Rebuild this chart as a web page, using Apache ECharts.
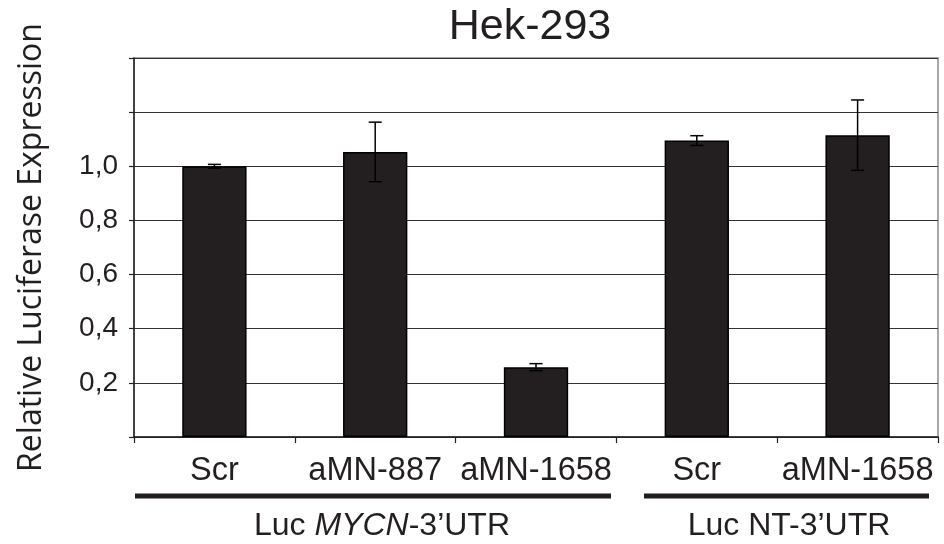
<!DOCTYPE html>
<html>
<head>
<meta charset="utf-8">
<script src="https://cdn.jsdelivr.net/npm/echarts@6/dist/echarts.min.js"></script>
<style>html,body{margin:0;padding:0;background:#fff}#c{width:944px;height:544px}</style>
</head>
<body>
<div id="c"></div>
<script>
var categories = ['Scr', 'aMN-887', 'aMN-1658', 'Scr', 'aMN-1658'];
var values = [1.0, 1.053, 0.258, 1.095, 1.115];
var errors = [0.007, 0.11, 0.013, 0.018, 0.13];
var yTicks = [0.2, 0.4, 0.6, 0.8, 1.0];
var groupNames = ['Luc ', 'MYCN', '-3\u2019UTR', 'Luc NT-3\u2019UTR'];

var chart = echarts.init(document.getElementById('c'), null, {renderer: 'canvas'});
var ink = '#231f20';
var font = 'Liberation Sans, Arial, sans-serif';

chart.setOption({
  animation: false,
  backgroundColor: '#fff',
  title: {
    text: 'Hek-293', left: 525, top: 1, textAlign: 'center',
    textStyle: {fontFamily: font, fontSize: 43, fontWeight: 'normal', color: ink}
  },
  grid: {left: 134, right: 6, top: 58, bottom: 107, show: true, borderColor: '#8a8a8a', borderWidth: 1.5, backgroundColor: 'transparent'},
  xAxis: {
    type: 'category', data: categories,
    axisLine: {lineStyle: {color: ink, width: 1.5}},
    axisTick: {show: true, length: 6, lineStyle: {color: ink, width: 1.2}},
    axisLabel: {fontFamily: font, fontSize: 32.5, color: ink, margin: 18, interval: 0},
    splitLine: {show: false}
  },
  yAxis: {
    type: 'value', min: 0, max: 1.4, interval: 0.2,
    name: 'Relative Luciferase Expression', nameLocation: 'middle', nameGap: 86,
    nameTextStyle: {fontFamily: 'Open Sans, sans-serif', fontSize: 32, color: ink},
    axisLine: {show: true, lineStyle: {color: ink, width: 1.5}},
    axisTick: {show: true, length: 5, lineStyle: {color: ink, width: 1.2}},
    axisLabel: {
      fontFamily: font, fontSize: 28, color: ink, margin: 16,
      formatter: function (v) {
        for (var i = 0; i < yTicks.length; i++) {
          if (Math.abs(v - yTicks[i]) < 1e-6) return yTicks[i].toFixed(1).replace('.', ',');
        }
        return '';
      }
    },
    splitLine: {show: true, lineStyle: {color: '#333', width: 1.2}}
  },
  series: [
    {
      type: 'bar', data: values, barWidth: '40%',
      itemStyle: {color: ink, borderColor: '#000', borderWidth: 1.5},
      z: 2
    },
    {
      type: 'custom', z: 3,
      data: values.map(function (v, i) { return [i, v - errors[i], v + errors[i]]; }),
      renderItem: function (params, api) {
        var x = api.value(0);
        var lo = api.coord([x, api.value(1)]);
        var hi = api.coord([x, api.value(2)]);
        var hw = 6.5;
        var st = {stroke: '#000', lineWidth: 1.5};
        return {
          type: 'group',
          children: [
            {type: 'line', shape: {x1: lo[0], y1: lo[1], x2: hi[0], y2: hi[1]}, style: st},
            {type: 'line', shape: {x1: lo[0] - hw, y1: lo[1], x2: lo[0] + hw, y2: lo[1]}, style: st},
            {type: 'line', shape: {x1: hi[0] - hw, y1: hi[1], x2: hi[0] + hw, y2: hi[1]}, style: st}
          ]
        };
      }
    }
  ],
  graphic: [
    {type: 'rect', shape: {x: 135, y: 493.5, width: 476, height: 5}, style: {fill: ink}},
    {type: 'rect', shape: {x: 644, y: 493.5, width: 285, height: 5}, style: {fill: ink}},
    {
      type: 'text', x: 382, y: 526,
      style: {
        text: '{a|' + groupNames[0] + '}{b|' + groupNames[1] + '}{a|' + groupNames[2] + '}',
        align: 'center', verticalAlign: 'middle',
        rich: {
          a: {fontFamily: font, fontSize: 32, fill: ink},
          b: {fontFamily: font, fontSize: 32, fontStyle: 'italic', fill: ink}
        }
      }
    },
    {
      type: 'text', x: 789, y: 526,
      style: {text: groupNames[3], align: 'center', verticalAlign: 'middle', font: '32px ' + font, fill: ink}
    }
  ]
});
</script>
</body>
</html>
